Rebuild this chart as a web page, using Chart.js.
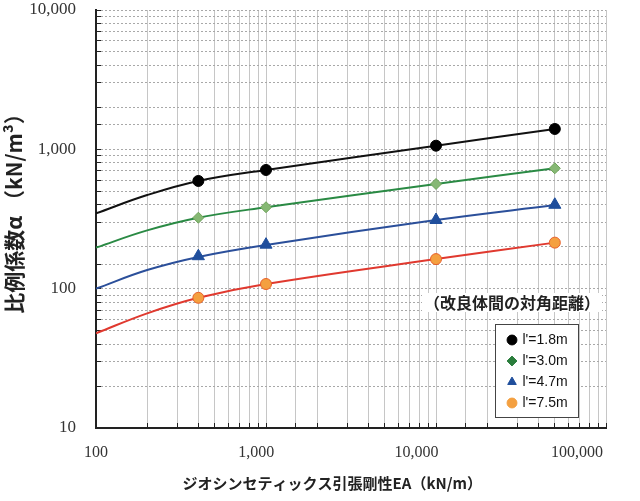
<!DOCTYPE html>
<html><head><meta charset="utf-8">
<script src="https://cdn.jsdelivr.net/npm/chart.js@4.4.1/dist/chart.umd.min.js"></script>
<style>html,body{margin:0;padding:0;background:#fff}</style>
</head><body>
<canvas id="c" width="640" height="501"></canvas>
<script>
// ---- data ----
const xTickValues = [100, 1000, 10000, 100000];
const yTickValues = [10, 100, 1000, 10000];
const seriesLabels = ["l'=1.8m", "l'=3.0m", "l'=4.7m", "l'=7.5m"];
const xPoints = [400, 1000, 10000, 50000];
const pts18 = [593, 711, 1062, 1400];
const pts30 = [323, 384, 564, 731];
const pts47 = [171, 207, 311, 400];
const pts75 = [86, 108, 163, 214];
const xCurve = [100, 200, 400, 1000, 10000, 50000];
const curve18 = [347, 470, 593, 711, 1062, 1400];
const curve30 = [197, 262, 323, 384, 564, 731];
const curve47 = [100, 136, 169, 206, 311, 398];
const curve75 = [47.8, 66.5, 86, 108, 163, 214];
const xTitle = 'ジオシンセティックス引張剛性EA（kN/m）';
const yTitle = '比例係数α （kN/m³）';
const noteText = '（改良体間の対角距離）';

// ---- styles ----
const lineColors = ['#111111', '#2a8a44', '#2b4f9a', '#e0392f'];
const markFill = ['#000000', '#86b874', '#1f4e9c', '#f4a040'];
const markBorder = ['#000000', '#6ea35a', '#1f4e9c', '#e8602a'];
const legendFill = ['#000000', '#2a7d3c', '#1f4e9c', '#f4a040'];
const markStyle = ['circle', 'rectRot', 'triangle', 'circle'];
const markRadius = [5.5, 5.5, 7, 5.5];

const ptsAll = [pts18, pts30, pts47, pts75];
const curvesAll = [curve18, curve30, curve47, curve75];

const datasets = [];
ptsAll.forEach((arr, i) => {
  datasets.push({
    label: seriesLabels[i],
    data: xPoints.map((x, k) => ({x: x, y: arr[k]})),
    showLine: false,
    pointStyle: markStyle[i],
    pointRadius: markRadius[i],
    pointHoverRadius: markRadius[i],
    pointBackgroundColor: markFill[i],
    pointBorderColor: markBorder[i],
    pointBorderWidth: 1,
    backgroundColor: markFill[i],
    borderColor: markBorder[i]
  });
});
curvesAll.forEach((arr, i) => {
  datasets.push({
    label: 'curve' + i,
    data: xCurve.map((x, k) => ({x: x, y: arr[k]})),
    showLine: true,
    pointRadius: 0,
    borderColor: lineColors[i],
    borderWidth: 2,
    tension: 0.4,
    fill: false
  });
});

const isDecade = v => Math.abs(Math.log10(v) - Math.round(Math.log10(v))) < 1e-9;
const fmt = v => Number(v).toLocaleString('en-US');
const noPad = s => { s.paddingTop = 0; s.paddingBottom = 0; s.paddingLeft = 0; s.paddingRight = 0; };

const legendPos = {
  id: 'legendPos',
  afterLayout(chart) {
    const lg = chart.legend;
    lg.left = 501.5; lg.top = 326;
    lg.right = lg.left + lg.width; lg.bottom = lg.top + lg.height;
  }
};
const overlay = {
  id: 'overlay',
  beforeDatasetsDraw(chart) {
    const ctx = chart.ctx;
    ctx.save();
    ctx.font = 'bold 16px "Noto Sans CJK JP"';
    ctx.textAlign = 'center';
    ctx.textBaseline = 'middle';
    const w = ctx.measureText(noteText).width;
    ctx.fillStyle = '#fff';
    ctx.fillRect(512 - w / 2 - 2, 293, w + 4, 19);
    ctx.fillStyle = '#222';
    ctx.fillText(noteText, 512, 303);
    ctx.fillStyle = '#fff';
    ctx.fillRect(495, 324, 83, 93);
    ctx.strokeStyle = '#444';
    ctx.lineWidth = 1;
    ctx.strokeRect(495.5, 324.5, 83, 93);
    ctx.restore();
    chart.legend.draw();
  }
};

new Chart(document.getElementById('c'), {
  type: 'scatter',
  data: {datasets: datasets},
  options: {
    responsive: false,
    animation: false,
    events: [],
    layout: {padding: {top: 10, right: 34, left: 0, bottom: 0}},
    plugins: {
      tooltip: {enabled: false},
      legend: {
        position: 'chartArea',
        align: 'start',
        labels: {
          usePointStyle: true, boxWidth: 7, boxHeight: 7, padding: 7,
          font: {family: '"Liberation Sans", Arial, sans-serif', size: 14},
          color: '#111',
          generateLabels: chart => Chart.defaults.plugins.legend.labels.generateLabels(chart).map(it => {
            if (it.datasetIndex < 4) { it.fillStyle = legendFill[it.datasetIndex]; it.strokeStyle = legendFill[it.datasetIndex]; }
            return it;
          }),
          filter: it => it.datasetIndex < 4
        }
      }
    },
    scales: {
      x: {
        type: 'logarithmic', position: 'bottom', min: 100, max: 100000, weight: 0,
        afterFit: s => { s.height = 0; noPad(s); },
        ticks: {display: false, autoSkip: false},
        grid: {color: '#c6c6c6', lineWidth: 1, drawTicks: true, tickLength: -5, tickColor: '#222', tickWidth: 1},
        border: {display: true, color: '#222', width: 2}
      },
      x2: {
        type: 'logarithmic', position: 'bottom', min: 100, max: 151900, weight: 1,
        afterBuildTicks: s => { s.ticks = xTickValues.map(v => ({value: v})); },
        afterFit: s => { s.height = 73; noPad(s); },
        grid: {display: false, drawTicks: false},
        border: {display: false},
        ticks: {autoSkip: false, maxRotation: 0, padding: 15,
          font: {family: '"Liberation Serif", serif', size: 16}, color: '#333',
          callback: v => fmt(v)},
        title: {display: true, text: xTitle + '　　　',
          font: {family: '"Noto Sans CJK JP", sans-serif', size: 15, weight: 'bold'},
          color: '#222', padding: {top: 0, bottom: 9}}
      },
      y: {
        type: 'logarithmic', position: 'left', min: 10, max: 10000,
        afterFit: s => { s.width = 96; noPad(s); },
        ticks: {autoSkip: false, padding: 25,
          font: {family: '"Liberation Serif", serif', size: 17}, color: '#333',
          callback: v => (isDecade(v) && yTickValues.includes(Math.round(v))) ? fmt(v) : ''},
        grid: {color: '#a8a8a8', lineWidth: 1, drawTicks: true, tickLength: -5, tickColor: '#222', tickWidth: 1},
        border: {display: true, color: '#222', width: 2, dash: [2, 2]},
        title: {display: true, text: '　' + yTitle,
          font: {family: '"Noto Sans CJK JP", sans-serif', size: 21, weight: 'bold'},
          color: '#222', padding: {top: 1, bottom: 0}}
      }
    }
  },
  plugins: [legendPos, overlay]
});
</script>
</body></html>
